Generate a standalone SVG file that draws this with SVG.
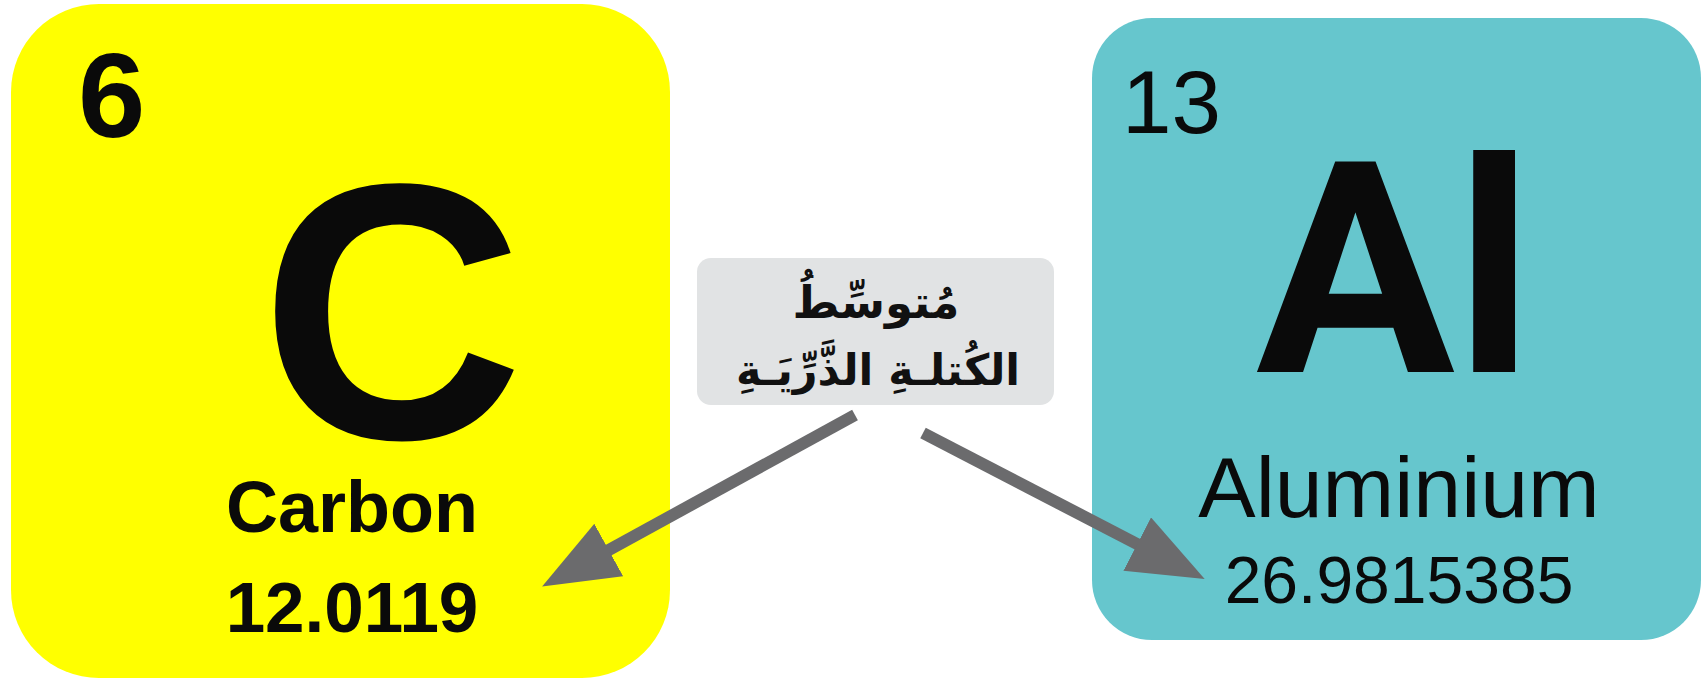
<svg xmlns="http://www.w3.org/2000/svg" width="1703" height="684" viewBox="0 0 1703 684">
<style>
.bold{font-family:"Liberation Sans",Arial,sans-serif;font-weight:700;fill:#0a0a0a}
.reg{font-family:"Liberation Sans",Arial,sans-serif;font-weight:400;fill:#0a0a0a}
.ar{font-family:"DejaVu Sans",sans-serif;font-weight:700;fill:#111}
.conn{stroke:#6b6b6d;stroke-width:12;fill:none;stroke-linecap:butt}
</style>
<defs>
<marker id="ah" markerUnits="userSpaceOnUse" markerWidth="78" markerHeight="62" refX="2" refY="30" orient="auto">
<path d="M0,0 L76,30 L0,60 Z" fill="#6b6b6d"/>
</marker>
</defs>
<rect width="1703" height="684" fill="#ffffff"/>
<g id="carbon">
<rect x="11" y="4" width="659" height="674" rx="88" ry="88" fill="#ffff00"/>
<text class="bold" x="78" y="137" font-size="121">6</text>
<text class="bold" x="392" y="438" font-size="365" text-anchor="middle">C</text>
<text class="bold" x="352" y="532" font-size="72" text-anchor="middle">Carbon</text>
<text class="bold" x="352" y="632" font-size="71" text-anchor="middle">12.0119</text>
</g>
<g id="aluminium">
<rect x="1092" y="18" width="609" height="622" rx="60" ry="60" fill="#66c6cd"/>
<text class="reg" x="1122" y="133" font-size="89">13</text>
<text x="1256" y="372" font-size="296" style="font-family:Roboto,'Liberation Sans',sans-serif;font-weight:700;fill:#0a0a0a">Al</text>
<text class="reg" x="1399" y="517" font-size="86" text-anchor="middle">Aluminium</text>
<text class="reg" x="1399" y="603" font-size="66" text-anchor="middle">26.9815385</text>
</g>
<g id="label">
<rect x="697" y="258" width="357" height="147" rx="14" ry="14" fill="#e1e3e4"/>
<text class="ar" x="876" y="318" font-size="45" text-anchor="middle" direction="rtl">مُتوسِّطُ</text>
<text class="ar" x="878" y="385" font-size="43" text-anchor="middle" direction="rtl">الكُتلـةِ الذَّرِّيَـةِ</text>
</g>
<g id="connectors">
<line class="conn" x1="855" y1="415" x2="607" y2="551" marker-end="url(#ah)"/>
<line class="conn" x1="923" y1="433" x2="1139" y2="545" marker-end="url(#ah)"/>
</g>
</svg>
